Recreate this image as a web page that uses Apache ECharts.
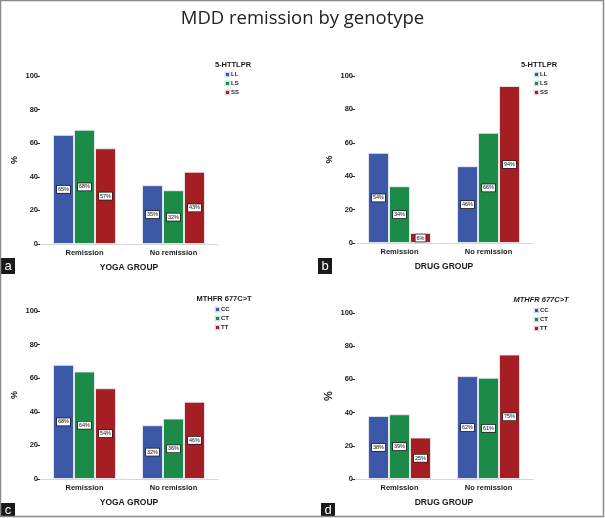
<!DOCTYPE html>
<html><head><meta charset="utf-8">
<script src="https://cdn.jsdelivr.net/npm/echarts@6/dist/echarts.min.js"></script>
<style>html,body{margin:0;padding:0;background:#fff}#c{width:605px;height:518px}</style>
</head><body><div id="c"></div>
<script>
const categories = ['Remission', 'No remission'];
const yTicks = [0, 20, 40, 60, 80, 100];
// Panel a: Yoga group, 5-HTTLPR
const aNames = ['LL', 'LS', 'SS'];
const aLL = [65, 35];
const aLS = [68, 32];
const aSS = [57, 43];
// Panel b: Drug group, 5-HTTLPR
const bLL = [54, 46];
const bLS = [34, 66];
const bSS = [6, 94];
// Panel c: Yoga group, MTHFR 677C>T
const cNames = ['CC', 'CT', 'TT'];
const cCC = [68, 32];
const cCT = [64, 36];
const cTT = [54, 46];
// Panel d: Drug group, MTHFR 677C>T
const dCC = [38, 62];
const dCT = [39, 61];
const dTT = [25, 75];

const colors = ['#3d58a7', '#1c8b47', '#a41e24'];
const FF = 'Liberation Sans, Arial, sans-serif';

const panels = [
  {names: aNames, data: [aLL, aLS, aSS], grid: {left: 40, top: 76, width: 178, height: 168}, xname: 'YOGA GROUP', legTitle: '5-HTTLPR', italic: false, letter: 'a'},
  {names: aNames, data: [bLL, bLS, bSS], grid: {left: 355, top: 76, width: 178, height: 167}, xname: 'DRUG GROUP', legTitle: '5-HTTLPR', italic: false, letter: 'b'},
  {names: cNames, data: [cCC, cCT, cTT], grid: {left: 40, top: 311, width: 178, height: 168}, xname: 'YOGA GROUP', legTitle: 'MTHFR 677C>T', italic: false, letter: 'c'},
  {names: cNames, data: [dCC, dCT, dTT], grid: {left: 355, top: 313, width: 178, height: 166}, xname: 'DRUG GROUP', legTitle: 'MTHFR 677C>T', italic: true, letter: 'd'}
];

const grids = [], xAxes = [], yAxes = [], series = [], legends = [], graphics = [];
panels.forEach((p, i) => {
  grids.push(p.grid);
  xAxes.push({
    type: 'category', gridIndex: i, data: categories,
    axisLine: {lineStyle: {color: '#d6d6d6', width: 1}},
    axisTick: {alignWithLabel: true, length: 2, lineStyle: {color: '#999'}},
    axisLabel: {color: '#1a1a1a', fontSize: 7.5, fontWeight: 'bold', fontFamily: FF, margin: 5},
    name: p.xname, nameLocation: 'middle', nameGap: 19,
    nameTextStyle: {color: '#1a1a1a', fontSize: 8.5, fontWeight: 'bold', fontFamily: FF}
  });
  yAxes.push({
    type: 'value', gridIndex: i, min: 0, max: 100, interval: 20,
    axisLine: {show: false},
    axisTick: {show: true, length: 3, inside: false, lineStyle: {color: '#333'}},
    splitLine: {show: false},
    axisLabel: {color: '#1a1a1a', fontSize: 7.5, fontWeight: 'bold', fontFamily: FF, margin: 2,
      formatter: v => yTicks.includes(v) ? String(v) : ''},
    name: '%', nameLocation: 'middle', nameGap: 21, nameRotate: 90,
    nameTextStyle: {color: '#1a1a1a', fontSize: i === 3 ? 11 : 9, fontWeight: 'bold', fontFamily: FF}
  });
  p.names.forEach((n, k) => {
    series.push({
      type: 'bar', name: n, xAxisIndex: i, yAxisIndex: i, data: p.data[k],
      barWidth: 21, barGap: '0%',
      itemStyle: {color: colors[k], borderColor: 'rgba(235,240,245,0.85)', borderWidth: 1},
      label: {show: true, position: 'inside', formatter: '{c}%', fontSize: 5.5, color: '#111', fontFamily: FF,
        backgroundColor: '#fff', borderColor: '#222', borderWidth: 0.8, padding: [1, 1, 0, 1]},
      emphasis: {disabled: true}, animation: false
    });
  });
  const legLeft = [224, 533, 214, 533][i];
  const legTop = [71, 71, 306, 307][i];
  legends.push({
    data: p.names, orient: 'vertical', left: legLeft, top: legTop,
    itemWidth: 5, itemHeight: 5, itemGap: 2, padding: 0,
    icon: 'rect',
    textStyle: {fontSize: 6, fontWeight: 'bold', color: '#222', fontFamily: FF, padding: [0, 0, 0, -4]},
    selectedMode: false
  });
  const titleX = [233, 539, 224, 541][i];
  const titleY = [65, 65, 299, 300][i];
  graphics.push({
    type: 'text', x: titleX, y: titleY,
    style: {text: p.legTitle, fill: '#1a1a1a', font: (p.italic ? 'italic ' : '') + 'bold 7.5px ' + FF, textAlign: 'center', textVerticalAlign: 'middle'}
  });
  const lx = [1, 318, 1, 321][i];
  const ly = [258, 258, 503, 503][i];
  const lh = [16, 16, 13, 13][i];
  graphics.push({type: 'rect', shape: {x: lx, y: ly, width: 14, height: lh}, style: {fill: '#1a1a1a'}});
  graphics.push({type: 'text', x: lx + 7, y: ly + lh / 2 + 0.5, style: {text: p.letter, fill: '#fff', font: '13px ' + FF, textAlign: 'center', textVerticalAlign: 'middle'}});
});

graphics.push({type: 'rect', shape: {x: 0.5, y: 0.5, width: 603, height: 516}, style: {fill: 'none', stroke: '#8a8a8a', lineWidth: 1.5}});

const chart = echarts.init(document.getElementById('c'), null, {renderer: 'canvas'});
chart.setOption({
  animation: false,
  title: {text: 'MDD remission by genotype', left: 'center', top: 4,
    textStyle: {fontSize: 18.5, fontWeight: 'normal', color: '#222', fontFamily: 'Open Sans, Noto Sans, sans-serif'}},
  grid: grids, xAxis: xAxes, yAxis: yAxes, series: series, legend: legends, graphic: graphics
});
</script></body></html>
